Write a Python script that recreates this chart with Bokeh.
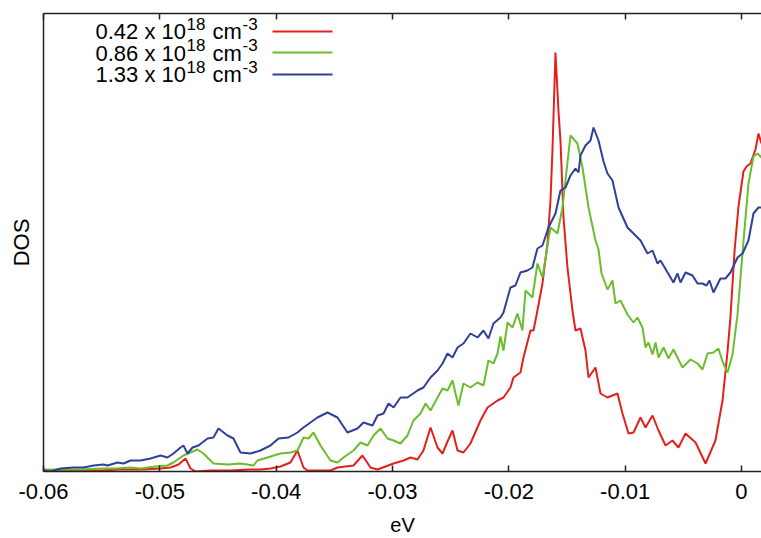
from bokeh.plotting import figure
from bokeh.models import LinearAxis, FixedTicker, Label, BoxAnnotation, Range1d
from bokeh.embed import file_html
from bokeh.resources import INLINE

# ---------------- data (energy in eV, DOS in arbitrary units) ----------------
red_e = [-0.06000, -0.05854, -0.05682, -0.05510, -0.05338, -0.05166, -0.04994, -0.04908, -0.04839, -0.04779,
         -0.04736, -0.04693, -0.04565, -0.04393, -0.04221, -0.04135, -0.04049, -0.03963, -0.03877, -0.03817,
         -0.03765, -0.03731, -0.03533, -0.03473, -0.03404, -0.03335, -0.03258, -0.03189, -0.03129, -0.03060,
         -0.02991, -0.02905, -0.02845, -0.02785, -0.02734, -0.02673, -0.02613, -0.02570, -0.02527, -0.02484,
         -0.02441, -0.02390, -0.02330, -0.02244, -0.02183, -0.02097, -0.02046, -0.01986, -0.01960, -0.01900,
         -0.01874, -0.01814, -0.01788, -0.01754, -0.01711, -0.01668, -0.01642, -0.01625, -0.01599, -0.01573,
         -0.01556, -0.01530, -0.01496, -0.01453, -0.01427, -0.01384, -0.01341, -0.01315, -0.01255, -0.01212,
         -0.01152, -0.01066, -0.01023, -0.00971, -0.00928, -0.00868, -0.00825, -0.00765, -0.00713, -0.00653,
         -0.00593, -0.00542, -0.00481, -0.00395, -0.00309, -0.00224, -0.00163, -0.00120, -0.00095, -0.00060,
         -0.00026, 0.00017, 0.00043, 0.00077, 0.00120, 0.00146, 0.00172]
red_dos = [1, 1, 1, 1, 2, 2, 3, 4, 7, 13,
           3, 0, 1, 1, 2, 2, 3, 5, 9, 21,
           4, 1, 1, 4, 5, 6, 16, 4, 2, 5,
           8, 11, 14, 12, 21, 44, 24, 18, 30, 41,
           21, 19, 28, 51, 64, 71, 74, 84, 94, 99,
           114, 141, 141, 161, 188, 228, 271, 321, 419, 360,
           331, 254, 204, 161, 141, 143, 121, 94, 104, 78,
           74, 78, 58, 38, 39, 54, 44, 56, 41, 26,
           31, 24, 38, 29, 8, 31, 71, 120, 154, 220,
           265, 300, 305, 308, 322, 338, 328]

green_e = [-0.06000, -0.05854, -0.05682, -0.05510, -0.05381, -0.05252, -0.05166, -0.05037, -0.04934, -0.04883,
           -0.04797, -0.04736, -0.04676, -0.04625, -0.04539, -0.04418, -0.04307, -0.04195, -0.04161, -0.04075,
           -0.03963, -0.03877, -0.03817, -0.03765, -0.03722, -0.03679, -0.03619, -0.03533, -0.03473, -0.03421,
           -0.03335, -0.03275, -0.03215, -0.03163, -0.03103, -0.03043, -0.02991, -0.02931, -0.02871, -0.02820,
           -0.02759, -0.02716, -0.02673, -0.02613, -0.02570, -0.02527, -0.02484, -0.02458, -0.02433, -0.02390,
           -0.02330, -0.02269, -0.02218, -0.02175, -0.02132, -0.02097, -0.02072, -0.02046, -0.02011, -0.01968,
           -0.01926, -0.01883, -0.01857, -0.01797, -0.01754, -0.01711, -0.01642, -0.01582, -0.01539, -0.01470,
           -0.01410, -0.01367, -0.01315, -0.01255, -0.01229, -0.01203, -0.01152, -0.01109, -0.01083, -0.01040,
           -0.00980, -0.00928, -0.00894, -0.00851, -0.00825, -0.00799, -0.00765, -0.00739, -0.00713, -0.00670,
           -0.00628, -0.00585, -0.00507, -0.00438, -0.00378, -0.00335, -0.00292, -0.00241, -0.00198, -0.00163,
           -0.00120, -0.00077, -0.00034, 0.00017, 0.00060, 0.00103, 0.00138, 0.00172]
green_dos = [2, 2, 2, 3, 3, 4, 3, 5, 6, 9,
             16, 19, 22, 18, 8, 7, 8, 6, 11, 14,
             18, 19, 21, 34, 33, 39, 26, 11, 9, 14,
             21, 29, 26, 36, 43, 33, 31, 28, 36, 51,
             58, 68, 61, 74, 83, 81, 91, 78, 66, 88,
             84, 89, 86, 111, 108, 118, 135, 121, 149, 144,
             158, 141, 181, 174, 208, 194, 244, 238, 264, 336,
             328, 304, 264, 231, 222, 198, 182, 191, 168, 171,
             157, 149, 154, 144, 124, 129, 117, 129, 114, 124,
             113, 122, 104, 112, 108, 102, 118, 119, 123, 110,
             99, 117, 157, 230, 288, 315, 318, 314]

blue_e = [-0.06000, -0.05940, -0.05854, -0.05742, -0.05656, -0.05570, -0.05484, -0.05450, -0.05364, -0.05312,
          -0.05252, -0.05166, -0.05080, -0.04994, -0.04934, -0.04883, -0.04822, -0.04797, -0.04762, -0.04719,
          -0.04668, -0.04590, -0.04539, -0.04496, -0.04418, -0.04367, -0.04307, -0.04221, -0.04135, -0.04049,
          -0.03980, -0.03894, -0.03817, -0.03765, -0.03645, -0.03559, -0.03473, -0.03387, -0.03301, -0.03249,
          -0.03172, -0.03129, -0.03077, -0.03034, -0.02991, -0.02931, -0.02871, -0.02785, -0.02734, -0.02673,
          -0.02613, -0.02570, -0.02527, -0.02484, -0.02441, -0.02390, -0.02330, -0.02269, -0.02218, -0.02175,
          -0.02132, -0.02072, -0.02046, -0.01986, -0.01943, -0.01900, -0.01840, -0.01797, -0.01754, -0.01711,
          -0.01659, -0.01599, -0.01556, -0.01513, -0.01470, -0.01427, -0.01401, -0.01384, -0.01341, -0.01298,
          -0.01272, -0.01229, -0.01186, -0.01152, -0.01109, -0.01057, -0.00980, -0.00911, -0.00868, -0.00808,
          -0.00765, -0.00722, -0.00696, -0.00610, -0.00585, -0.00550, -0.00524, -0.00481, -0.00421, -0.00378,
          -0.00335, -0.00301, -0.00275, -0.00241, -0.00181, -0.00138, -0.00095, -0.00034, 0.00009, 0.00060,
          0.00103, 0.00146, 0.00172]
blue_dos = [1, 0, 3, 4, 4, 6, 7, 6, 9, 8,
            11, 11, 13, 16, 14, 18, 24, 26, 18, 24,
            26, 33, 34, 43, 36, 33, 19, 18, 21, 26,
            33, 34, 39, 44, 54, 59, 54, 39, 43, 49,
            46, 56, 58, 68, 64, 74, 74, 81, 84, 94,
            101, 108, 118, 114, 124, 128, 138, 134, 141, 133,
            148, 154, 159, 184, 186, 199, 201, 204, 223, 226,
            244, 258, 281, 284, 296, 303, 299, 316, 326, 331,
            344, 331, 310, 298, 291, 264, 244, 236, 231, 218,
            221, 208, 211, 194, 189, 198, 189, 199, 196, 188,
            188, 186, 191, 179, 193, 193, 199, 214, 218, 231,
            258, 264, 264]

series_values = ["0.42", "0.86", "1.33"]
series_colors = ["#e3211c", "#6cbd2c", "#2f3f9a"]

tick_values = [-0.06, -0.05, -0.04, -0.03, -0.02, -0.01, 0.0]
tick_labels = ["-0.06", "-0.05", "-0.04", "-0.03", "-0.02", "-0.01", "0"]

FONT = "Liberation Sans"

# ---------------- figure ----------------
p = figure(width=761, height=538, output_backend="svg", toolbar_location=None,
           x_range=Range1d(-0.06, 0.00172), y_range=Range1d(0, 458),
           min_border_left=43, min_border_right=0, min_border_top=13, min_border_bottom=67)
p.grid.visible = False
p.outline_line_color = None
p.background_fill_color = "white"
p.border_fill_color = "white"

for e, d, c in zip([red_e, green_e, blue_e], [red_dos, green_dos, blue_dos], series_colors):
    p.line(e, d, line_color=c, line_width=2)

xa = p.xaxis[0]
xa.ticker = FixedTicker(ticks=tick_values)
xa.major_label_overrides = dict(zip(tick_values, tick_labels))
xa.major_tick_in = 6
xa.major_tick_out = 0
xa.minor_tick_in = 0
xa.minor_tick_out = 0
xa.axis_line_width = 1.5
xa.axis_line_color = "#222222"
xa.major_tick_line_color = "#222222"
xa.major_tick_line_width = 1.5
xa.major_label_text_font = FONT
xa.major_label_text_font_size = "22px"
xa.major_label_text_color = "black"
xa.major_label_standoff = 12
xa.axis_label = "eV"
xa.axis_label_text_font = FONT
xa.axis_label_text_font_size = "20px"
xa.axis_label_text_font_style = "normal"
xa.axis_label_text_color = "black"
xa.axis_label_standoff = 12

top = LinearAxis(ticker=FixedTicker(ticks=tick_values),
                 major_label_overrides={v: "" for v in tick_values},
                 major_tick_in=6, major_tick_out=0, minor_tick_in=0, minor_tick_out=0,
                 axis_line_width=1.5, axis_line_color="#222222",
                 major_tick_line_color="#222222", major_tick_line_width=1.5,
                 major_label_standoff=0)
p.add_layout(top, "above")

ya = p.yaxis[0]
ya.ticker = FixedTicker(ticks=[])
ya.major_tick_in = 0
ya.major_tick_out = 0
ya.minor_tick_in = 0
ya.minor_tick_out = 0
ya.axis_line_width = 1.5
ya.axis_line_color = "#222222"
ya.axis_label = "DOS"
ya.axis_label_text_font = FONT
ya.axis_label_text_font_size = "22px"
ya.axis_label_text_font_style = "normal"
ya.axis_label_text_color = "black"
ya.axis_label_standoff = 10

frame_left, frame_bottom = 43, 471

# ---------------- legend (gnuplot style: text, then line sample) ----------------
row_baselines = [31, 52.5, 74]
line_rows = [31, 52, 74]
for val, c, yb, yl in zip(series_values, series_colors, row_baselines, line_rows):
    sy = frame_bottom - yb
    p.add_layout(Label(x=95 - frame_left, y=sy, x_units="screen", y_units="screen",
                       text=f"{val} x 10", text_font=FONT, text_font_size="22px",
                       text_baseline="alphabetic", text_align="left", text_color="black"))
    p.add_layout(Label(x=186 - frame_left, y=sy + 8, x_units="screen", y_units="screen",
                       text="18", text_font=FONT, text_font_size="17px",
                       text_baseline="alphabetic", text_align="left", text_color="black"))
    p.add_layout(Label(x=212 - frame_left, y=sy, x_units="screen", y_units="screen",
                       text="cm", text_font=FONT, text_font_size="22px",
                       text_baseline="alphabetic", text_align="left", text_color="black"))
    p.add_layout(Label(x=242 - frame_left, y=sy + 8, x_units="screen", y_units="screen",
                       text="-3", text_font=FONT, text_font_size="17px",
                       text_baseline="alphabetic", text_align="left", text_color="black"))
    p.add_layout(BoxAnnotation(left=272 - frame_left, right=332 - frame_left,
                               bottom=frame_bottom - yl - 1, top=frame_bottom - yl + 1,
                               left_units="screen", right_units="screen",
                               bottom_units="screen", top_units="screen",
                               fill_color=c, fill_alpha=1.0, line_color=None))

open("out.html", "w").write(file_html(p, INLINE))
